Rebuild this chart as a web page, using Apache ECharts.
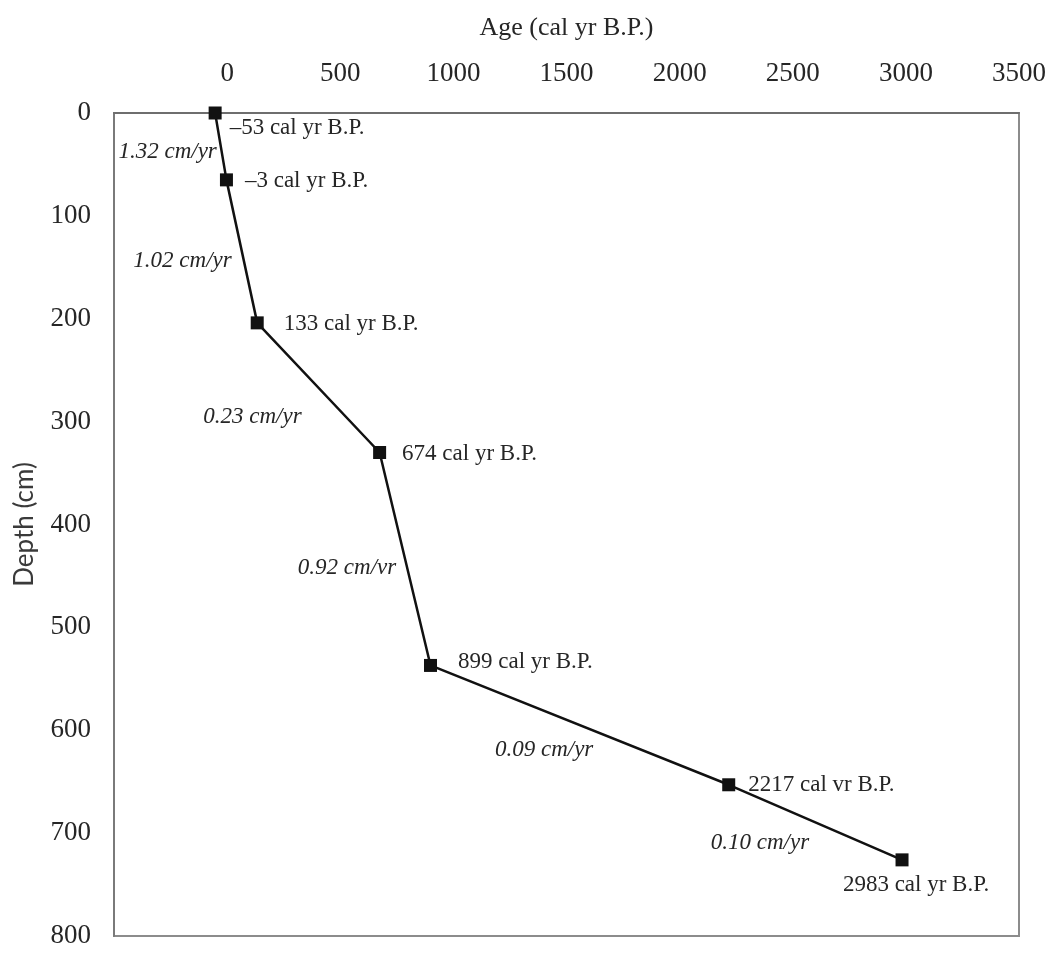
<!DOCTYPE html>
<html>
<head>
<meta charset="utf-8">
<script src="https://cdn.jsdelivr.net/npm/echarts@6/dist/echarts.min.js"></script>
<style>
  html, body { margin: 0; padding: 0; background: #ffffff; }
  #chart { width: 1051px; height: 953px; }
</style>
</head>
<body>
<div id="chart"></div>
<script>
// Age–depth model: calibrated ages (cal yr B.P.) against core depth (cm)
const ages   = [-53, -3, 133, 674, 899, 2217, 2983];
const depths = [0, 65, 204, 330, 537, 653, 726];
const ageLabels = [
  '\u201353 cal yr B.P.',
  '\u20133 cal yr B.P.',
  '133 cal yr B.P.',
  '674 cal yr B.P.',
  '899 cal yr B.P.',
  '2217 cal vr B.P.',
  '2983 cal yr B.P.'
];

// Sedimentation rates between dated levels, placed in data space beside each segment
const rateTexts  = ['1.32 cm/yr', '1.02 cm/yr', '0.23 cm/yr', '0.92 cm/vr', '0.09 cm/yr', '0.10 cm/yr'];
const rateAges   = [-263, -197, 112, 530, 1401, 2355];
const rateDepths = [38, 144, 295, 442, 619, 710];

// Axis ticks
const ageMin = -500, ageMax = 3500, ageStep = 500;
const depthMin = 0, depthMax = 800, depthStep = 100;

// Label placement for each dated point (layout only)
const labelPlacement = [
  { position: 'right', distance: 8,  offset: [0, 15] },
  { position: 'right', distance: 12, offset: [0, 1] },
  { position: 'right', distance: 20, offset: [0, 1] },
  { position: 'right', distance: 16, offset: [0, 1] },
  { position: 'right', distance: 21, offset: [0, -3] },
  { position: 'right', distance: 13, offset: [0, 0] },
  { position: 'bottom', distance: 7, offset: [14, 0] }
];

const serif = '"Liberation Serif", "Times New Roman", serif';
const textColor = '#262626';

const chart = echarts.init(document.getElementById('chart'));

const pointData = ages.map((a, i) => ({
  value: [a, depths[i]],
  label: Object.assign({ show: true, formatter: ageLabels[i] }, labelPlacement[i])
}));

const rateData = rateTexts.map((t, i) => ({
  value: [rateAges[i], rateDepths[i]],
  label: { formatter: t }
}));

chart.setOption({
  backgroundColor: '#ffffff',
  animation: false,
  grid: {
    left: 114, right: 32, top: 113, bottom: 17,
    show: true, borderColor: '#8c8c8c', borderWidth: 2
  },
  xAxis: {
    type: 'value',
    position: 'top',
    min: ageMin, max: ageMax, interval: ageStep,
    name: 'Age (cal yr B.P.)',
    nameLocation: 'middle',
    nameGap: 72,
    nameTextStyle: { fontFamily: serif, fontSize: 26, color: textColor },
    axisLine: { show: true, onZero: false, lineStyle: { color: '#6e6e6e', width: 2 } },
    axisTick: { show: false },
    splitLine: { show: false },
    axisLabel: {
      fontFamily: serif, fontSize: 27, color: textColor, margin: 26,
      formatter: v => (v < 0 ? '' : String(v))
    }
  },
  yAxis: {
    type: 'value',
    inverse: true,
    min: depthMin, max: depthMax, interval: depthStep,
    name: 'Depth (cm)',
    nameLocation: 'middle',
    nameGap: 76,
    nameRotate: 90,
    nameTextStyle: { fontFamily: 'Lato, "Noto Sans", sans-serif', fontSize: 26, color: '#3a3a3a' },
    axisLine: { show: true, onZero: false, lineStyle: { color: '#7a7a7a', width: 2 } },
    axisTick: { show: false },
    splitLine: { show: false },
    axisLabel: {
      fontFamily: serif, fontSize: 27, color: textColor, margin: 23,
      padding: [8, 0, 0, 0]
    }
  },
  series: [
    {
      type: 'line',
      data: pointData,
      symbol: 'rect',
      symbolSize: 13,
      clip: false,
      itemStyle: { color: '#111111' },
      lineStyle: { color: '#111111', width: 2.5 },
      label: { fontFamily: serif, fontSize: 23, color: textColor },
      z: 3
    },
    {
      type: 'scatter',
      data: rateData,
      symbolSize: 0,
      silent: true,
      itemStyle: { opacity: 1 },
      label: {
        show: true, position: 'inside', opacity: 1,
        fontFamily: serif, fontStyle: 'italic', fontSize: 23,
        color: textColor, textBorderWidth: 0
      },
      z: 2
    }
  ]
});
</script>
</body>
</html>
